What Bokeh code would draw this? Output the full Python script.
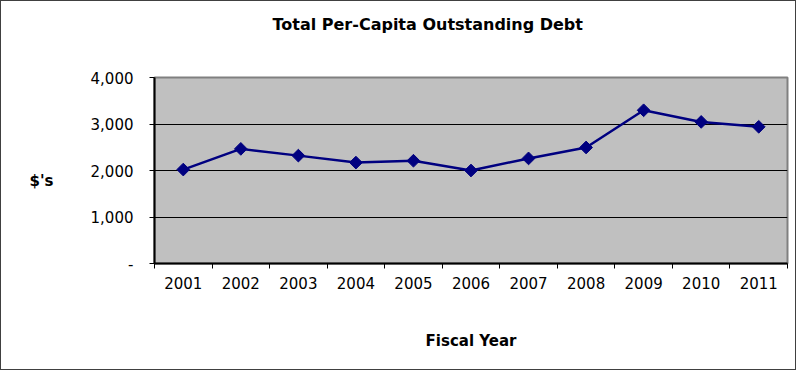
import math
from bokeh.plotting import figure
from bokeh.models import FixedTicker, Range1d, NumeralTickFormatter
from bokeh.embed import file_html
from bokeh.resources import INLINE

# ---- data ----
years = ["2001", "2002", "2003", "2004", "2005", "2006", "2007", "2008", "2009", "2010", "2011"]
debt = [2020, 2465, 2320, 2170, 2210, 2000, 2260, 2495, 3295, 3045, 2940]
y_ticks = [0, 1000, 2000, 3000, 4000]

FONT = "DejaVu Sans"
xpos = [i + 0.5 for i in range(len(years))]

p = figure(width=796, height=370, output_backend="svg", toolbar_location=None,
           x_range=Range1d(0, len(years)), y_range=Range1d(0, 4000),
           min_border_left=153, min_border_right=10, min_border_top=76, min_border_bottom=108,
           title="Total Per-Capita Outstanding Debt\n\n")
p.styles = {"border": "1px solid #404040", "box-sizing": "border-box"}
p.background_fill_color = "#C0C0C0"
p.border_fill_color = "white"
p.outline_line_color = "#808080"
p.outline_line_width = 2

p.title.align = "left"
p.title.offset = 118
p.title.standoff = 12
p.title.text_font = FONT
p.title.text_font_size = "16px"
p.title.text_font_style = "bold"
p.title.text_color = "black"

# x axis
p.xaxis.ticker = FixedTicker(ticks=xpos, minor_ticks=list(range(len(years) + 1)))
p.xaxis.major_label_overrides = {x: y for x, y in zip(xpos, years)}
p.xaxis.major_tick_out = 0
p.xaxis.major_tick_in = 0
p.xaxis.minor_tick_out = 5
p.xaxis.minor_tick_in = 0
p.xaxis.minor_tick_line_color = "black"
p.xaxis.axis_line_color = "black"
p.xaxis.axis_line_width = 2
p.xaxis.major_label_standoff = 8
p.xaxis.major_label_text_font = FONT
p.xaxis.major_label_text_font_size = "15px"
p.xaxis.major_label_text_color = "black"
p.xaxis.axis_label = "Fiscal Year"
p.xaxis.axis_label_standoff = 40
p.xaxis.axis_label_text_font = FONT
p.xaxis.axis_label_text_font_size = "15px"
p.xaxis.axis_label_text_font_style = "bold"
p.xaxis.axis_label_text_color = "black"

# y axis
p.yaxis.ticker = FixedTicker(ticks=y_ticks)
p.yaxis.formatter = NumeralTickFormatter(format="0,0")
p.yaxis.major_label_overrides = {0: "-"}
p.yaxis.major_tick_out = 5
p.yaxis.major_tick_in = 0
p.yaxis.minor_tick_line_color = None
p.yaxis.axis_line_color = "black"
p.yaxis.axis_line_width = 2
p.yaxis.major_label_standoff = 16
p.yaxis.major_label_text_font = FONT
p.yaxis.major_label_text_font_size = "15px"
p.yaxis.major_label_text_color = "black"
p.yaxis.axis_label = "\n$'s"
p.yaxis.axis_label_orientation = "horizontal"
p.yaxis.axis_label_standoff = 34
p.yaxis.axis_label_text_font = FONT
p.yaxis.axis_label_text_font_size = "15px"
p.yaxis.axis_label_text_font_style = "bold"
p.yaxis.axis_label_text_color = "black"

p.xgrid.grid_line_color = None
p.ygrid.ticker = FixedTicker(ticks=y_ticks[1:-1])
p.ygrid.grid_line_color = "black"
p.ygrid.grid_line_width = 1
p.ygrid.grid_line_alpha = 1

p.line(xpos, debt, line_color="#000080", line_width=2.5)
p.scatter(xpos, debt, marker="square", angle=math.pi / 4, size=9,
          fill_color="#000080", line_color="#000080")

open("out.html", "w").write(file_html(p, INLINE))
